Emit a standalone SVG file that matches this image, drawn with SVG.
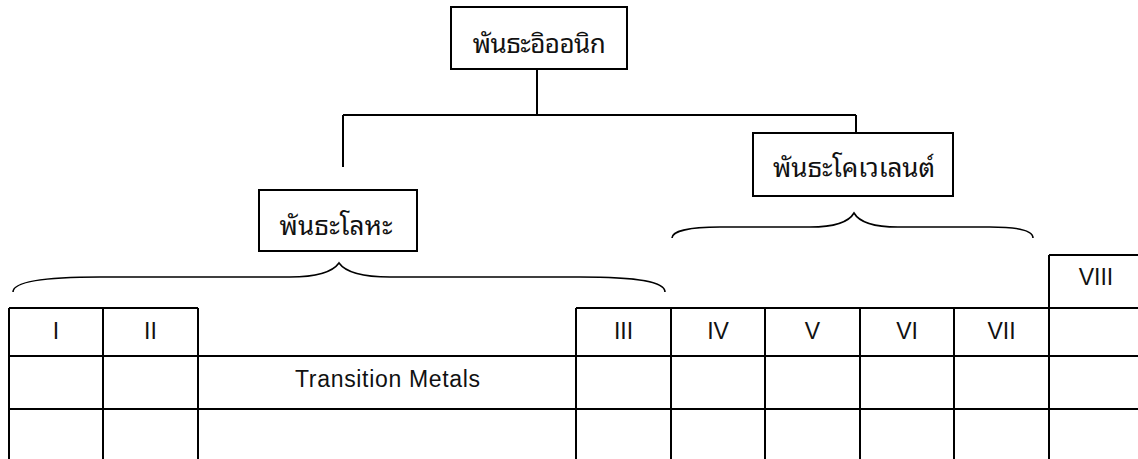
<svg xmlns="http://www.w3.org/2000/svg" width="1138" height="459" viewBox="0 0 1138 459">
<style>
.box{fill:#fff;stroke:#000;stroke-width:2}
.ln{fill:none;stroke:#000;stroke-width:2}
.br{fill:none;stroke:#000;stroke-width:1.6}
.th{font-family:"Noto Sans Thai Looped","Noto Serif Thai","Noto Sans Thai","Noto Sans","DejaVu Sans",sans-serif;font-size:26px;fill:#111;text-anchor:middle}
.en{font-family:"Liberation Sans",Arial,sans-serif;font-size:23px;fill:#111;text-anchor:middle}
</style>
<rect width="1138" height="459" fill="#fff"/>
<g id="connectors">
<path class="ln" d="M537,69 V115 M343,115 H856 M343,115 V167 M856,115 V133"/>
<path class="br" d="M13,292 C13,282 40,277 100,277 L290,277 C320,277 334,270 339,263 C344,270 358,277 390,277 L580,277 C640,277 665,282 665,292"/>
<path class="br" d="M672,238 C672,231 690,227 720,227 L810,227 C838,227 850,220 854,213 C858,220 870,227 898,227 L990,227 C1020,227 1033,231 1033,238"/>
</g>
<g id="ionic">
<rect class="box" x="451" y="7" width="176" height="62"/>
<text class="th" x="539" y="53" textLength="133">พันธะอิออนิก</text>
</g>
<g id="metallic">
<rect class="box" x="259" y="190" width="158" height="61"/>
<text class="th" x="336" y="235" textLength="113">พันธะโลหะ</text>
</g>
<g id="covalent">
<rect class="box" x="753" y="133" width="200" height="63"/>
<text class="th" x="854" y="177" textLength="162">พันธะโคเวเลนต์</text>
</g>
<g id="table">
<path class="ln" d="M9,308 H198 M576,308 H1138 M1049,255 H1138 M9,356 H1138 M9,409 H1138 M9,308 V459 M103,308 V459 M198,308 V459 M576,308 V459 M671,308 V459 M765,308 V459 M860,308 V459 M954,308 V459 M1049,255 V459"/>
<text class="en" x="56" y="339">I</text>
<text class="en" x="150.5" y="339">II</text>
<text class="en" x="623.5" y="339">III</text>
<text class="en" x="718" y="339">IV</text>
<text class="en" x="812.5" y="339">V</text>
<text class="en" x="907" y="339">VI</text>
<text class="en" x="1001.5" y="339">VII</text>
<text class="en" x="1096" y="285">VIII</text>
<text class="en" x="387.5" y="387" textLength="185">Transition Metals</text>
</g>
</svg>
